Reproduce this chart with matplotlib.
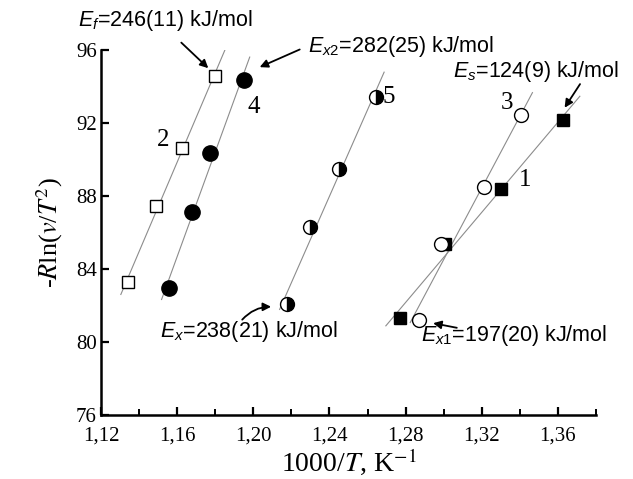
import matplotlib

matplotlib.use("Agg")
import matplotlib.pyplot as plt
import numpy as np
from matplotlib.ticker import FuncFormatter, MultipleLocator

plt.rcParams["mathtext.fontset"] = "custom"
plt.rcParams["mathtext.rm"] = "Liberation Sans"
plt.rcParams["mathtext.it"] = "Liberation Sans:italic"

# 1000/T (K^-1) and -R ln(v/T^2) per series
S1_X = [1.2772, 1.3007, 1.3299, 1.3627]
S1_Y = [81.33, 85.37, 88.40, 92.16]
S2_X = [1.1344, 1.1488, 1.1625, 1.1801]
S2_Y = [83.30, 87.45, 90.61, 94.59]
S3_X = [1.2872, 1.2986, 1.3214, 1.3408]
S3_Y = [81.21, 85.37, 88.48, 92.44]
S4_X = [1.1557, 1.1678, 1.1774, 1.1953]
S4_Y = [82.98, 87.14, 90.37, 94.36]
S5_X = [1.2178, 1.2298, 1.2450, 1.2644]
S5_Y = [82.06, 86.32, 89.46, 93.41]

# x extent of the fitted lines
FIT_RANGE = {
    "1": (1.2696, 1.3715),
    "2": (1.1304, 1.1850),
    "3": (1.2824, 1.3466),
    "4": (1.1518, 1.1981),
    "5": (1.2138, 1.2687),
}

SERIES_LABELS = ["1", "2", "3", "4", "5"]
LABEL_POS = [(1.3429, 88.88), (1.1528, 91.07), (1.3334, 93.08),
             (1.2002, 92.89), (1.2712, 93.42)]

ENERGY_TEXT = [
    r"$E_f$=246(11) kJ/mol",
    r"$E_{x2}$=282(25) kJ/mol",
    r"$E_s$=124(9) kJ/mol",
    r"$E_x$=238(21) kJ/mol",
    r"$E_{x1}$=197(20) kJ/mol",
]
ENERGY_TEXT_POS = [(1.1079, 97.64), (1.2285, 96.20), (1.3048, 94.81),
                   (1.1511, 80.56), (1.2881, 80.38)]
ARROW_FROM = [(1.1611, 96.51), (1.2257, 96.09), (1.3724, 94.26),
              (1.1932, 81.11), (1.3083, 80.75)]
ARROW_TO = [(1.1774, 94.90), (1.2020, 95.00), (1.3627, 92.71),
            (1.2108, 81.93), (1.2930, 81.06)]
ARROW_RAD = [0.0, 0.0, 0.0, -0.25, 0.0]

SERIF = "Liberation Serif"
SANS = "Liberation Sans"

fig = plt.figure(figsize=(6.33, 4.79), dpi=100)
ax = fig.add_axes([0.1596, 0.1336, 0.7820, 0.7620])

line_kw = dict(color="#8c8c8c", lw=0.8, zorder=1)
for key, xs, ys in [("1", S1_X, S1_Y), ("2", S2_X, S2_Y), ("3", S3_X, S3_Y),
                    ("4", S4_X, S4_Y), ("5", S5_X, S5_Y)]:
    k, b = np.polyfit(xs, ys, 1)
    x0, x1 = FIT_RANGE[key]
    xf = np.array([x0, x1])
    ax.plot(xf, k * xf + b, **line_kw)

ax.plot(S1_X, S1_Y, "s", ms=9, mfc="black", mec="black", ls="none", zorder=3)
ax.plot(S3_X, S3_Y, "o", ms=10, mfc="white", mec="black", mew=1.0, ls="none", zorder=4)
ax.plot(S2_X, S2_Y, "s", ms=9, mfc="white", mec="black", mew=1.0, ls="none", zorder=3)
ax.plot(S4_X, S4_Y, "o", ms=11, mfc="black", mec="black", ls="none", zorder=3)
ax.plot(S5_X, S5_Y, "o", ms=10, fillstyle="right", mfc="black", mfcalt="white",
        mec="black", mew=1.0, ls="none", zorder=3)

for lbl, (x, y) in zip(SERIES_LABELS, LABEL_POS):
    ax.text(x, y, lbl, fontsize=18, family=SERIF, ha="center", va="center")

for txt, (tx, ty), a0, a1, rad in zip(ENERGY_TEXT, ENERGY_TEXT_POS, ARROW_FROM,
                                      ARROW_TO, ARROW_RAD):
    ax.text(tx, ty, txt, fontsize=15.5, family=SANS, ha="left", va="center",
            clip_on=False)
    ax.annotate("", xy=a1, xytext=a0, annotation_clip=False,
                arrowprops=dict(arrowstyle="-|>", color="black", lw=1.3,
                                mutation_scale=12,
                                connectionstyle=f"arc3,rad={rad}"))

ax.set_xlim(1.12, 1.38)
ax.set_ylim(76, 96)
ax.xaxis.set_major_locator(MultipleLocator(0.04))
ax.xaxis.set_minor_locator(MultipleLocator(0.02))
ax.yaxis.set_major_locator(MultipleLocator(4))
ax.xaxis.set_major_formatter(FuncFormatter(lambda v, p: f"{v:.2f}".replace(".", ",")
                                           if v < 1.375 else ""))
ax.yaxis.set_major_formatter(FuncFormatter(lambda v, p: f"{v:.0f}"))

for s in ["top", "right"]:
    ax.spines[s].set_visible(False)
for s in ["left", "bottom"]:
    ax.spines[s].set_linewidth(1.8)

ax.tick_params(which="major", direction="in", length=6, width=1.6,
               labelsize=15, pad=3)
ax.tick_params(axis="x", which="major", pad=8)
ax.tick_params(which="minor", direction="in", length=4, width=1.4)
for lab in ax.get_xticklabels() + ax.get_yticklabels():
    lab.set_family(SERIF)

xl = ax.set_xlabel(r"1000/$T$, K$^{-1}$", fontsize=20, family=SERIF)
xl.set_math_fontfamily("stix")
ax.xaxis.set_label_coords(0.5, -0.085)
yl = ax.set_ylabel(r"-$R$ln($v$/$T^2$)", fontsize=19, family=SERIF, labelpad=8)
yl.set_math_fontfamily("stix")

fig.savefig("out.png", dpi=100)
